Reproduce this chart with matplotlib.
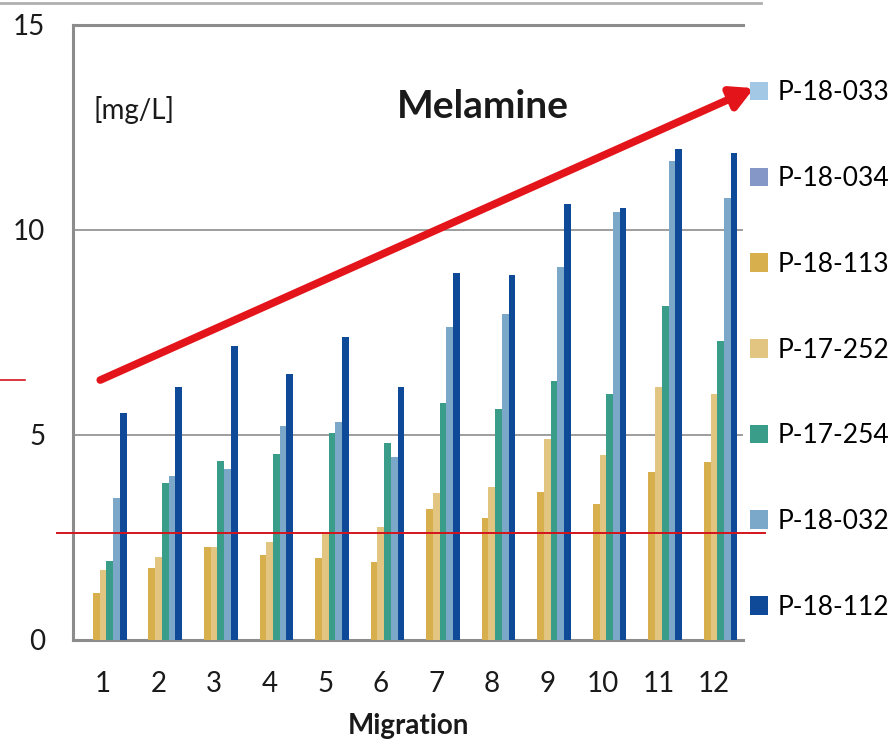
import numpy as np
import matplotlib
matplotlib.use('Agg')
import matplotlib.pyplot as plt
from matplotlib.lines import Line2D

plt.rcParams['font.family'] = ['Lato', 'DejaVu Sans']

migrations = list(range(1, 13))
series = ['P-18-033', 'P-18-034', 'P-18-113', 'P-17-252', 'P-17-254', 'P-18-032', 'P-18-112']
colors = ['#a3c8e6', '#8497c6', '#d7b04d', '#e2c581', '#3a9d8a', '#7ba7c9', '#0e4a97']

p18_033 = [0] * 12
p18_034 = [0] * 12
p18_113 = [1.15, 1.76, 2.27, 2.07, 2.00, 1.90, 3.19, 2.97, 3.61, 3.32, 4.10, 4.34]
p17_252 = [1.70, 2.02, 2.27, 2.39, 2.62, 2.75, 3.59, 3.73, 4.90, 4.51, 6.17, 6.00]
p17_254 = [1.93, 3.83, 4.37, 4.54, 5.05, 4.80, 5.78, 5.63, 6.32, 6.00, 8.15, 7.29]
p18_032 = [3.46, 4.00, 4.17, 5.22, 5.32, 4.46, 7.63, 7.95, 9.10, 10.44, 11.68, 10.78]
p18_112 = [5.54, 6.17, 7.17, 6.49, 7.39, 6.17, 8.95, 8.90, 10.63, 10.54, 11.98, 11.88]
values = [p18_033, p18_034, p18_113, p17_252, p17_254, p18_032, p18_112]

limit = 2.6          # red reference line
trend = ((0.95, 6.34), (12.72, 13.46))   # red arrow start / end

INK, GRID = '#1a1a1a', '#8c8c8c'

fig = plt.figure(figsize=(8.95, 7.44), dpi=100)
ax = fig.add_axes([0.0816, 0.1398, 0.7484, 0.8266])

x = np.array(migrations, dtype=float)
w = 0.121
for i, (name, vals, col) in enumerate(zip(series, values, colors)):
    ax.bar(x + (i - 3) * w, vals, width=w, color=col, label=name, zorder=3, linewidth=0)

ax.set_xlim(0.46, 12.52)
ax.set_ylim(0, 15)
ax.set_yticks([0, 5, 10, 15])
ax.set_xticks(migrations)
ax.yaxis.grid(True, color=GRID, linewidth=1.2, zorder=0)
ax.set_axisbelow(True)
ax.tick_params(length=0, labelsize=20, colors=INK)
ax.tick_params(axis='y', pad=20)
ax.tick_params(axis='x', pad=22)
for s in ('left', 'bottom', 'top'):
    ax.spines[s].set_color(GRID)
    ax.spines[s].set_linewidth(2.2)
ax.spines['right'].set_visible(False)
ax.set_xlabel('Migration', fontsize=20, fontweight='bold', color=INK, labelpad=12)

ax.text(0.030, 0.862, '[mg/L]', transform=ax.transAxes, fontsize=20,
        color=INK, va='center', ha='left')
ax.text(0.612, 0.867, 'Melamine', transform=ax.transAxes, fontsize=28,
        fontweight='bold', color=INK, va='center', ha='center')

# red limit line and trend arrow
ax.plot([-0.024, 1.033], [limit, limit], transform=ax.get_yaxis_transform(),
        color='#d4141c', lw=1.4, clip_on=False, zorder=4)
ax.annotate('', xy=trend[1], xytext=trend[0], annotation_clip=False,
            arrowprops=dict(arrowstyle='-|>,head_length=1.3,head_width=0.7',
                            color='#e3151b', lw=5.5, shrinkA=0, shrinkB=0),
            zorder=5)

fig.add_artist(Line2D([0.0, 0.028], [1 - 380 / 744] * 2, color='#d4141c', lw=1.2))
fig.add_artist(Line2D([0.0, 0.85], [1 - 3 / 744] * 2, color='#b0b0b0', lw=2))

fig.legend(loc='upper left', bbox_to_anchor=(0.826, 0.906), frameon=False,
           fontsize=19, handlelength=0.7, handleheight=0.7, handletextpad=0.35,
           labelspacing=2.3, borderaxespad=0)

fig.savefig('out.png', dpi=100, facecolor='white')
